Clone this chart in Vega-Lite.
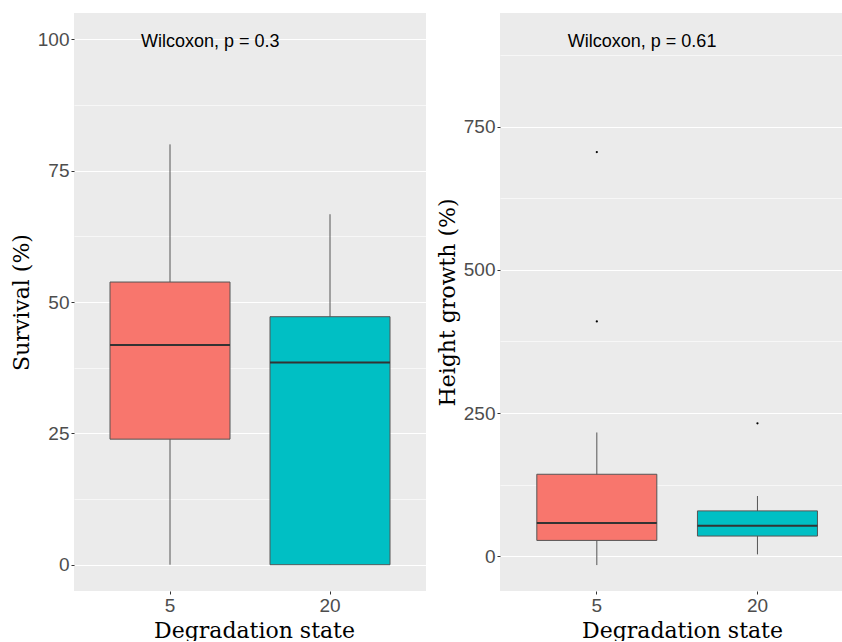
{
  "$schema": "https://vega.github.io/schema/vega-lite/v6.json",
  "background": "white",
  "padding": {"left": 10, "top": 13, "right": 0, "bottom": 0},
  "spacing": 10,
  "datasets": {
    "survival": [
      {"state": "5", "lower": 0, "q1": 23.9, "median": 41.8, "q3": 53.8, "upper": 80},
      {"state": "20", "lower": 0, "q1": 0, "median": 38.5, "q3": 47.2, "upper": 66.7}
    ],
    "survival_label": [
      {"state": "5", "y": 99.5, "label": "Wilcoxon, p = 0.3"}
    ],
    "growth": [
      {"state": "5", "lower": -15.7, "q1": 27.4, "median": 57.7, "q3": 143, "upper": 216},
      {"state": "20", "lower": 3, "q1": 35, "median": 53, "q3": 79, "upper": 105}
    ],
    "growth_outliers": [
      {"state": "5", "value": 410},
      {"state": "5", "value": 706},
      {"state": "20", "value": 232}
    ],
    "growth_label": [
      {"state": "5", "y": 898, "label": "Wilcoxon, p = 0.61"}
    ]
  },
  "config": {
    "view": {"fill": "#EBEBEB", "stroke": null},
    "axis": {
      "domain": false,
      "gridColor": "white",
      "tickColor": "#333333",
      "tickSize": 3,
      "tickWidth": 1,
      "labelColor": "#4D4D4D",
      "labelFont": "Liberation Sans",
      "labelFontSize": 19,
      "labelPadding": 2,
      "titleFont": "DejaVu Serif",
      "titleFontSize": 22,
      "titleFontWeight": "normal",
      "titleColor": "black"
    }
  },
  "hconcat": [
    {
      "width": 352,
      "height": 578,
      "encoding": {
        "x": {
          "field": "state",
          "type": "nominal",
          "sort": ["5", "20"],
          "scale": {"domain": ["5", "20"], "paddingInner": 0.25, "paddingOuter": 0.225},
          "axis": {"title": "Degradation state", "labelAngle": 0, "bandPosition": 0.5, "titlePadding": 5, "titleX": 180}
        }
      },
      "layer": [
        {
          "data": {"name": "survival"},
          "mark": {"type": "rule", "color": "#555555", "strokeWidth": 1},
          "encoding": {
            "y": {
              "field": "lower",
              "type": "quantitative",
              "scale": {"domain": [-5, 105], "nice": false, "zero": false},
              "axis": {
                "title": "Survival (%)",
                "titlePadding": 4,
                "values": [0, 12.5, 25, 37.5, 50, 62.5, 75, 87.5, 100],
                "labelExpr": "datum.value % 25 === 0 ? datum.label : ''",
                "gridWidth": {"condition": {"test": "datum.value % 25 !== 0", "value": 0.6}, "value": 1.2},
                "tickOpacity": {"condition": {"test": "datum.value % 25 !== 0", "value": 0}, "value": 1}
              }
            },
            "y2": {"field": "upper"}
          }
        },
        {
          "data": {"name": "survival"},
          "mark": {"type": "bar", "stroke": "#555555", "strokeWidth": 1},
          "encoding": {
            "y": {"field": "q1", "type": "quantitative", "scale": {"domain": [-5, 105], "nice": false, "zero": false}},
            "y2": {"field": "q3"},
            "color": {"field": "state", "type": "nominal", "scale": {"domain": ["5", "20"], "range": ["#F8766D", "#00BFC4"]}, "legend": null}
          }
        },
        {
          "data": {"name": "survival"},
          "mark": {"type": "bar", "fill": null, "stroke": "#333333", "strokeWidth": 2},
          "encoding": {
            "y": {"field": "median", "type": "quantitative", "scale": {"domain": [-5, 105], "nice": false, "zero": false}},
            "y2": {"field": "median"}
          }
        },
        {
          "data": {"name": "survival_label"},
          "mark": {"type": "text", "align": "left", "baseline": "middle", "dx": -29, "font": "Liberation Sans", "fontSize": 18, "color": "black"},
          "encoding": {
            "y": {"field": "y", "type": "quantitative", "scale": {"domain": [-5, 105], "nice": false, "zero": false}},
            "text": {"field": "label"}
          }
        }
      ]
    },
    {
      "width": 342,
      "height": 578,
      "encoding": {
        "x": {
          "field": "state",
          "type": "nominal",
          "sort": ["5", "20"],
          "scale": {"domain": ["5", "20"], "paddingInner": 0.253, "paddingOuter": 0.191, "align": 0.6},
          "axis": {"title": "Degradation state", "labelAngle": 0, "bandPosition": 0.5, "titlePadding": 5, "titleX": 182}
        }
      },
      "layer": [
        {
          "data": {"name": "growth"},
          "mark": {"type": "rule", "color": "#555555", "strokeWidth": 1},
          "encoding": {
            "y": {
              "field": "lower",
              "type": "quantitative",
              "scale": {"domain": [-61, 949], "nice": false, "zero": false},
              "axis": {
                "title": "Height growth (%)",
                "titlePadding": 4,
                "values": [0, 125, 250, 375, 500, 625, 750, 875],
                "labelExpr": "datum.value % 250 === 0 ? datum.label : ''",
                "gridWidth": {"condition": {"test": "datum.value % 250 !== 0", "value": 0.6}, "value": 1.2},
                "tickOpacity": {"condition": {"test": "datum.value % 250 !== 0", "value": 0}, "value": 1}
              }
            },
            "y2": {"field": "upper"}
          }
        },
        {
          "data": {"name": "growth"},
          "mark": {"type": "bar", "stroke": "#555555", "strokeWidth": 1},
          "encoding": {
            "y": {"field": "q1", "type": "quantitative", "scale": {"domain": [-61, 949], "nice": false, "zero": false}},
            "y2": {"field": "q3"},
            "color": {"field": "state", "type": "nominal", "scale": {"domain": ["5", "20"], "range": ["#F8766D", "#00BFC4"]}, "legend": null}
          }
        },
        {
          "data": {"name": "growth"},
          "mark": {"type": "bar", "fill": null, "stroke": "#333333", "strokeWidth": 2},
          "encoding": {
            "y": {"field": "median", "type": "quantitative", "scale": {"domain": [-61, 949], "nice": false, "zero": false}},
            "y2": {"field": "median"}
          }
        },
        {
          "data": {"name": "growth_outliers"},
          "mark": {"type": "point", "filled": true, "color": "black", "size": 5, "opacity": 1},
          "encoding": {
            "y": {"field": "value", "type": "quantitative", "scale": {"domain": [-61, 949], "nice": false, "zero": false}}
          }
        },
        {
          "data": {"name": "growth_label"},
          "mark": {"type": "text", "align": "left", "baseline": "middle", "dx": -29, "font": "Liberation Sans", "fontSize": 18, "color": "black"},
          "encoding": {
            "y": {"field": "y", "type": "quantitative", "scale": {"domain": [-61, 949], "nice": false, "zero": false}},
            "text": {"field": "label"}
          }
        }
      ]
    }
  ]
}
